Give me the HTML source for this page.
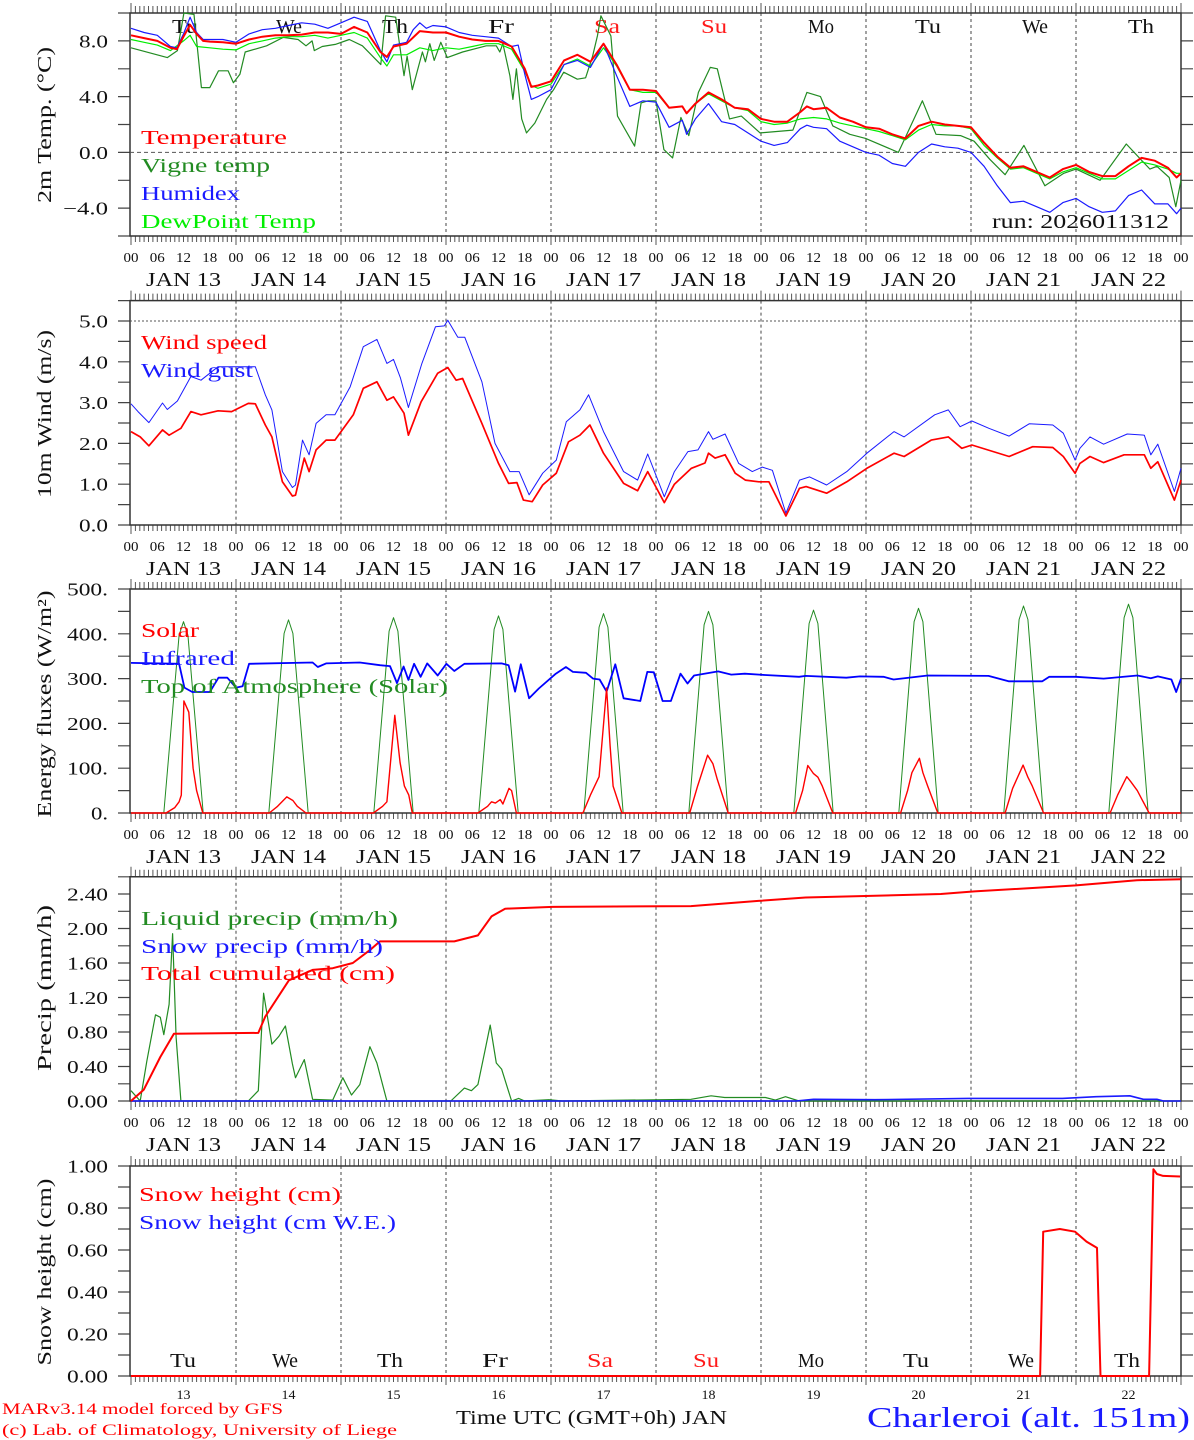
<!DOCTYPE html>
<html><head><meta charset="utf-8"><title>MAR forecast Charleroi</title>
<style>
html,body{margin:0;padding:0;background:#fff;}
svg{display:block;font-family:"Liberation Serif","DejaVu Serif",serif;}
</style></head>
<body>
<svg id="chart" width="1194" height="1440" viewBox="0 0 1194 1440" xmlns="http://www.w3.org/2000/svg"></svg>
<script>
// ---------- DATA ----------
const dayNames = ["Tu","We","Th","Fr","Sa","Su","Mo","Tu","We","Th"];
const dayNums = ["13","14","15","16","17","18","19","20","21","22"];
const hourTicks = ["00","06","12","18"];

const tempH = [0,3,6,9,10.5,12,13.5,15,16.5,18,21,24,27,30,33,36,39,42,45,48,51,54,57,58.5,60,63,66,69,72,75,78,81,84,87,90,91.5,93,96,99,102,105,108,111,114,117,120,123,126,127,129,132,135,138,141,144,147,150,153,154.5,156,159,162,165,168,171,174,177,180,183,186,189,192,195,198,201,204,207,210,213,216,219,222,225,228,231,234,237,239,240];
const tempV = [8.4,8.2,8.0,7.5,7.4,8.3,9.15,8.5,8.0,7.95,7.9,7.8,8.1,8.3,8.4,8.4,8.45,8.6,8.6,8.5,9.0,8.6,7.2,6.85,7.6,7.8,8.7,8.6,8.6,8.3,8.1,8.0,8.0,7.6,6.0,4.7,4.8,5.1,6.6,7.0,6.5,7.8,6.3,4.5,4.5,4.4,3.2,3.3,2.8,3.5,4.3,3.8,3.2,3.1,2.4,2.2,2.2,2.9,3.3,3.1,3.2,2.5,2.2,1.8,1.7,1.3,1.0,1.9,2.2,2.0,1.9,1.8,0.7,-0.3,-1.1,-1.0,-1.4,-1.8,-1.2,-0.9,-1.4,-1.7,-1.7,-1.0,-0.4,-0.6,-1.1,-1.8,-1.5];

const humH = [0,3,6,9,10.5,12,13.5,15,16.5,18,21,24,27,30,33,36,39,42,45,48,51,54,57,58.5,60,63,64.5,66,67.5,69,72,75,78,81,84,87,88.5,90,91.5,93,96,99,102,105,108,111,114,117,120,123,126,127,129,132,135,138,141,144,147,150,153,154.5,156,159,162,165,168,171,174,177,180,183,186,189,192,195,198,201,204,207,210,213,216,219,222,225,228,231,234,237,239,240];
const humV = [8.9,8.6,8.4,7.6,7.5,8.5,9.7,8.6,8.1,8.1,8.1,7.9,8.5,8.8,8.9,9.1,9.3,9.2,8.9,9.3,9.7,9.4,7.3,6.5,7.7,7.9,8.8,9.3,8.9,9.1,9.0,8.6,8.4,8.3,8.2,7.6,7.7,5.6,3.8,4.0,4.5,6.3,6.6,6.1,7.8,5.5,3.3,3.7,3.6,1.8,2.3,1.3,2.4,3.5,2.2,2.0,1.4,0.8,0.5,0.7,1.7,1.95,1.8,1.7,0.8,0.4,0.0,-0.2,-0.8,-1.0,0.0,0.6,0.4,0.3,0.0,-1.0,-2.4,-3.6,-3.5,-3.9,-4.3,-3.6,-3.3,-3.9,-4.3,-4.2,-3.1,-2.7,-3.7,-3.7,-4.4,-4.0];

const dewH = [0,3,6,9,12,13.5,15,18,21,24,27,30,33,36,39,42,45,48,51,54,57,58.5,60,63,66,69,72,75,78,81,84,87,90,91.5,93,96,99,102,105,108,111,114,117,120,123,126,127,129,132,135,138,141,144,147,150,153,156,159,162,165,168,171,174,177,180,183,186,189,192,195,198,201,204,207,210,213,216,219,222,225,228,231,234,237,239,240];
const dewV = [8.1,7.9,7.7,7.3,8.0,8.4,7.6,7.5,7.4,7.35,7.8,8.0,8.2,8.3,8.3,8.4,8.2,8.4,8.6,8.2,6.8,6.2,7.0,7.0,7.5,7.3,7.5,7.4,7.6,7.8,7.8,7.4,5.8,4.8,4.6,4.9,6.3,6.7,6.2,7.5,6.2,4.5,4.3,4.3,3.2,3.3,2.8,3.5,4.2,3.7,3.2,3.0,2.2,2.0,2.1,2.4,2.5,2.4,2.1,1.9,1.7,1.5,1.2,0.9,1.6,2.0,1.9,1.9,1.7,0.5,-0.4,-1.2,-1.1,-1.5,-1.9,-1.4,-1.1,-1.5,-1.9,-1.9,-1.3,-0.7,-0.9,-1.2,-1.5,-1.5];

const vigH = [0,8.3,10.6,12.1,14.4,16.1,18,20,22.2,23.4,24.9,26.1,31,34.8,38.2,40,41.4,41.9,43.7,46.7,49.9,52.9,57.1,58.2,60.5,62.4,63.1,64.3,66.6,67.3,68.3,69.3,70.8,72.3,75.8,81.2,83.5,84.3,85,86.6,87.3,88.1,89.3,90.4,92.3,95,96.6,98.9,102,103.9,105.5,106.6,107.4,109.7,111.2,115.1,116.6,118.2,120,121.8,123.8,125.7,127.5,129.7,132.4,134,136.8,139.5,143.8,151.3,154.5,157.6,160.4,164.3,167.9,175.4,180.9,184,189.6,192.7,196.3,199.8,204.1,208.9,213.2,216,221.5,227.5,232.9,234.5,237.3,238.8,240];
const vigV = [7.5,6.8,7.3,10.0,9.9,4.65,4.65,5.85,5.85,5.0,5.6,7.2,7.65,8.25,8.1,7.65,8.0,7.3,7.6,7.75,8.1,7.65,6.3,9.8,9.7,5.5,6.9,4.5,7.2,6.5,7.8,6.6,7.9,6.8,7.2,7.65,7.65,7.2,7.8,5.5,3.8,6.0,2.4,1.4,2.1,3.8,4.5,5.75,5.25,5.35,6.9,8.35,9.8,8.35,2.6,0.45,3.55,3.7,3.7,0.2,-0.4,2.5,1.2,4.3,6.1,6.0,2.4,2.6,1.4,1.6,4.3,4.0,1.9,1.3,1.0,0.0,3.7,1.3,1.2,0.8,-0.5,-1.6,0.5,-2.4,-1.5,-1.2,-2.0,0.6,-1.2,-1.0,-1.8,-3.9,-2.0];

const windH = [0,2.1,4.1,7.2,8.7,11.4,13.7,16,19.9,23,26.8,28.4,30.7,32.2,34.6,36.9,37.6,39.6,40.7,42.3,44.6,46.6,50.8,53.1,56.2,58.5,60,62.4,63.4,66.3,70.1,72.4,74.3,75.8,80.2,84,86.3,88.2,89.7,91.7,94.1,97.2,100,102.6,104.9,108,112.6,115.8,118.1,121.9,124.2,128.1,131.2,132,133.5,135.8,138.1,140.4,143.5,145.8,149.7,152.8,154.3,159,163.6,168.2,174.4,176.7,182.9,186.8,189.9,192.2,200.7,206.1,210.7,213.1,215.8,216.9,219.2,222.3,227,231.6,233.1,234.7,238.5,240];
const windV = [2.29,2.16,1.94,2.33,2.2,2.37,2.78,2.7,2.8,2.78,2.98,2.97,2.45,2.16,1.06,0.71,0.73,1.64,1.31,1.84,2.08,2.08,2.7,3.35,3.51,3.06,3.14,2.74,2.2,3.02,3.72,3.86,3.55,3.59,2.49,1.51,1.02,1.04,0.61,0.57,0.98,1.27,2.04,2.2,2.45,1.76,1.02,0.84,1.31,0.55,1.0,1.39,1.52,1.76,1.64,1.72,1.27,1.1,1.06,1.06,0.22,0.9,0.94,0.78,1.06,1.39,1.76,1.68,2.08,2.16,1.88,1.96,1.68,1.92,1.9,1.68,1.27,1.51,1.68,1.53,1.72,1.72,1.39,1.55,0.61,1.1];

const gustH = [0,1.6,4.1,7.2,8.3,10.6,13.7,16,19.9,28.4,30.7,32.2,34.6,36.9,37.6,39.2,40.7,42.3,44.6,46.6,50.1,53.1,56.2,58.5,60,61.6,63.4,66.5,69.6,71.6,72.4,74.7,76.3,80.2,83.2,86.6,88.7,91,94.1,97.2,99.5,102.6,104.6,108,112.6,115.8,118.1,121.9,124.2,127.3,129.6,132,133,135.8,138.9,142,144.3,146.6,149.7,152.8,155.1,159,163.6,168.2,174.4,176.7,183.7,186.8,189.5,192.2,196.1,200.7,205.3,210.7,213.1,215.8,216.9,219.2,222.3,227.7,231.6,233.1,234.7,238.5,240];
const gustV = [2.97,2.78,2.51,2.99,2.83,3.04,3.64,3.55,3.88,3.88,3.19,2.82,1.31,0.92,0.98,2.08,1.72,2.49,2.7,2.7,3.39,4.37,4.55,3.96,4.06,3.6,2.88,3.96,4.86,4.88,5.02,4.6,4.6,3.51,2.0,1.31,1.31,0.74,1.27,1.59,2.53,2.82,3.19,2.29,1.31,1.1,1.74,0.69,1.31,1.8,1.84,2.29,2.1,2.23,1.51,1.31,1.42,1.34,0.29,1.1,1.18,0.98,1.31,1.76,2.29,2.16,2.7,2.82,2.41,2.55,2.37,2.18,2.48,2.45,2.25,1.59,1.88,2.16,1.98,2.23,2.2,1.72,1.98,0.82,1.39];

const solarH = [0,8,10,11,11.5,12.1,13.2,14.2,15,16.4,31.6,33.5,35.6,37,38,40,55.4,57.5,58.5,60.3,61.5,62.5,63.5,64.3,79.3,81.5,82.4,83.3,84.4,85,86.4,87,88.1,103.3,105,107,108.7,109.5,110.2,112.2,127.7,129.5,131.8,133,134,136.5,151.9,153.5,154.7,156,157,158,160.4,175.9,177.5,178.5,180.2,181,182.1,184.4,199.8,201.5,203.9,205,206,208.6,223.8,225.5,227.6,228.5,230,232.7,240];
const solarV = [0,0,12,25,40,250,225,100,50,0,0,15,36,28,15,0,0,15,25,218,112,60,40,0,0,15,25,22,30,20,55,50,0,0,40,81,279,150,60,0,0,60,129,110,75,0,0,50,106,88,80,60,0,0,50,90,122,90,60,0,0,55,107,80,60,0,0,40,81,70,50,0,0];

const irH = [0,11,12.2,14,18,20,22,24,25.5,27,41.5,42.7,44.6,52.3,56.9,59.2,60.8,62.3,63.4,64.7,66.2,67.7,70.1,72.1,73.9,76.2,84.7,86.3,87.8,89.1,91,93.2,97.1,99.4,101,104,105.6,107.1,108.7,110.7,112.6,116.4,118,119.5,121.5,123.4,125.6,127.2,128.7,134.2,137.2,140.3,144.9,152.7,154.2,163.5,166.6,172,174.3,182.1,196,200.6,208.3,209.9,216,222.3,230,233.1,234.7,237.8,238.9,240];
const irV = [335,333,280,270,270,302,302,280,283,333,336,326,334,336,330,328,290,327,297,333,304,334,307,333,317,333,334,330,271,332,256,278,311,326,315,313,300,298,271,332,256,250,315,314,250,250,311,289,307,316,309,311,308,304,306,302,305,304,298,307,306,294,294,304,304,300,307,301,305,298,270,300];

const toaH = [0,7.5,11,12,13,16.5,31.5,35,36,37,40.5,55.5,59,60,61,64.5,79.5,83,84,85,88.5,103.5,107,108,109,112.5,127.5,131,132,133,136.5,151.5,155,156,157,160.5,175.5,179,180,181,184.5,199.5,203,204,205,208.5,223.5,227,228,229,232.5,240];
const toaV = [0,0,397,427,397,0,0,401,431,401,0,0,406,436,406,0,0,410,440,410,0,0,415,445,415,0,0,420,450,420,0,0,423,453,423,0,0,427,457,427,0,0,432,462,432,0,0,436,466,436,0,0];

const cumH = [0,2.9,6.7,9.8,29.1,30.7,36.1,41.5,46.1,50.7,54.6,56.9,73.9,79.3,82.4,85.5,96.3,128,143.4,154.2,185.1,192.8,216,229.9,240];
const cumV = [0,0.13,0.51,0.78,0.79,0.98,1.40,1.52,1.54,1.60,1.75,1.85,1.85,1.92,2.14,2.23,2.25,2.26,2.32,2.36,2.40,2.43,2.50,2.56,2.57];

const liqH = [0,2.1,3.6,5.6,6.7,7.5,8.7,9.5,10.3,11.4,26.8,29.1,30.3,32.2,33.8,35.3,36.9,37.6,39.6,41.5,46.1,48.4,50.4,52.3,54.6,56.2,58.5,73.1,76.2,77.8,79.3,80.9,82.1,83.5,84.7,87,88.6,90,95.5,98.6,128,132.6,135.7,138.8,145,147.3,149.6,152.7,240];
const liqV = [0.12,0,0.46,1.0,0.97,0.77,1.12,1.94,0.74,0,0,0.12,1.25,0.66,0.75,0.87,0.43,0.27,0.48,0.02,0.01,0.27,0.07,0.19,0.63,0.44,0,0,0.15,0.12,0.19,0.58,0.88,0.44,0.37,0,0.03,0,0.015,0,0.02,0.06,0.04,0.04,0.04,0.01,0.05,0,0];

const snowPH = [0,152,156,170,191.3,212.9,220.6,228.3,231.4,234.5,236,240];
const snowPV = [0,0,0.02,0.015,0.03,0.03,0.05,0.06,0.02,0.02,0,0];

const snowH = [0,207.8,208.5,212.3,215.8,218.4,220.8,221.6,232.7,233.7,234.5,235.9,239.8];
const snowV = [0,0,0.687,0.70,0.687,0.64,0.61,0,0,0.985,0.962,0.953,0.95];

// ---------- HELPERS ----------
const NS = 'http://www.w3.org/2000/svg';
const svg = document.getElementById('chart');
function mk(tag, parent) { const e = document.createElementNS(NS, tag); (parent || svg).appendChild(e); return e; }
function set(e, o) { for (const k in o) e.setAttribute(k, o[k]); return e; }
const XL = 131, XR = 1181;
function xh(h) { return XL + h * (XR - XL) / 240; }
function yv(p, v) { return p.bot - (v - p.vmin) / (p.vmax - p.vmin) * (p.bot - p.top); }
function txt(str, x, y, size, color, anchor, len) {
  const t = mk('text');
  set(t, { x: x, y: y, 'font-size': size, fill: color, 'text-anchor': anchor || 'start' });
  if (len) { set(t, { textLength: len, lengthAdjust: 'spacingAndGlyphs' }); }
  t.textContent = str;
  return t;
}
function labW(s) { let w = 0; for (const c of s) { w += (c === '.') ? 5 : (c === '\u2212' ? 16 : 12); } return w; }
function seriesPath(p, H, V, color, width) {
  let d = '';
  for (let i = 0; i < H.length; i++) { d += (i ? 'L' : 'M') + xh(H[i]).toFixed(1) + ' ' + yv(p, V[i]).toFixed(1); }
  const e = mk('path');
  set(e, { d: d, fill: 'none', stroke: color, 'stroke-width': width, 'stroke-linejoin': 'round' });
  return e;
}

const P = [
  { id: 'temp', top: 13, bot: 236, vmin: -6, vmax: 10, step: 2, labels: [8, 4, 0, -4], dec: 1, title: '2m Temp. (\u00B0C)', tc: 125, tl: 156 },
  { id: 'wind', top: 300.6, bot: 525, vmin: 0, vmax: 5.5, step: 0.5, labels: [0, 1, 2, 3, 4, 5], dec: 1, title: '10m Wind (m/s)', tc: 414, tl: 168 },
  { id: 'energy', top: 589, bot: 813, vmin: 0, vmax: 500, step: 50, labels: [0, 100, 200, 300, 400, 500], dec: -1, title: 'Energy fluxes (W/m\u00B2)', tc: 704, tl: 227 },
  { id: 'precip', top: 876.75, bot: 1101, vmin: 0, vmax: 2.6, step: 0.2, labels: [0, 0.4, 0.8, 1.2, 1.6, 2.0, 2.4], dec: 2, title: 'Precip (mm/h)', tc: 988, tl: 166 },
  { id: 'snow', top: 1166, bot: 1376, vmin: 0, vmax: 1, step: 0.1, labels: [0, 0.2, 0.4, 0.6, 0.8, 1.0], dec: 2, title: 'Snow height (cm)', tc: 1272, tl: 187 }
];

// ---------- AXES ----------
P.forEach(function (p, pi) {
  const g = mk('g');
  
  
  // day separators
  let dd = '';
  for (let d = 1; d < 10; d++) { const x = xh(d * 24).toFixed(1); dd += 'M' + x + ' ' + p.top + 'V' + p.bot; }
  const sep = mk('path', g);
  set(sep, { d: dd, stroke: '#444', 'stroke-width': 1, 'stroke-dasharray': '3,3', fill: 'none' });
  
  
  // hourly ticks
  let td = '';
  for (let h = 0; h <= 240; h++) {
    const x = xh(h).toFixed(1);
    const lg = (h % 24 === 0);
    td += 'M' + x + ' ' + (p.top - (lg ? 10 : 7)) + 'V' + p.top;
    td += 'M' + x + ' ' + p.bot + 'V' + (p.bot + (lg ? 9 : 6));
  }
  const tk = mk('path', g);
  set(tk, { d: td, stroke: '#555', 'stroke-width': 1, fill: 'none' });
  
  
  // y ticks
  let yd = '';
  const n = Math.round((p.vmax - p.vmin) / p.step);
  for (let i = 0; i <= n; i++) {
    const y = yv(p, p.vmin + i * p.step).toFixed(1);
    yd += 'M118 ' + y + 'H130M' + XR + ' ' + y + 'H1193';
  }
  const yt = mk('path', g);
  set(yt, { d: yd, stroke: '#444', 'stroke-width': 1.2, fill: 'none' });
  
  
  // frame
  const fr = mk('rect', g);
  set(fr, { x: 130, y: p.top, width: XR - 130, height: p.bot - p.top, fill: 'none', stroke: '#333', 'stroke-width': 1.5 });
  
  
  // y labels
  p.labels.forEach(function (v) {
    let s = p.dec < 0 ? (v.toFixed(0) + '.') : v.toFixed(p.dec);
    if (v < 0) s = '\u2212' + s.slice(1);
    const t = txt(s, 108, yv(p, v) + 6.5, 18, '#111', 'end', labW(s));
    
    
  });
  // y title
  const yt2 = txt(p.title, 0, 0, 20, '#111', 'middle', p.tl);
  yt2.setAttribute('transform', 'translate(51,' + p.tc + ') rotate(-90)');
  
  
  // x labels
  if (pi < 4) {
    for (let d = 0; d < 10; d++) {
      for (let k = 0; k < 4; k++) {
        const t = txt(hourTicks[k], xh(d * 24 + k * 6), p.bot + 26, 14, '#111', 'middle', 15);
        
        
      }
      const dl = txt('JAN ' + dayNums[d], xh(d * 24 + 12), p.bot + 50, 20, '#111', 'middle', 75);
      
      
    }
    const t = txt('00', xh(240), p.bot + 26, 14, '#111', 'middle', 15);
    
    
  }
});

// zero / 5.0 reference lines
const z1 = mk('line');
set(z1, { x1: 130, x2: XR, y1: yv(P[0], 0), y2: yv(P[0], 0), stroke: '#555', 'stroke-width': 1, 'stroke-dasharray': '4,3' });


const z2 = mk('line');
set(z2, { x1: 130, x2: XR, y1: yv(P[1], 5), y2: yv(P[1], 5), stroke: '#555', 'stroke-width': 1, 'stroke-dasharray': '2,2' });



// day names
const topDayX = [185, 289, 395, 501, 607, 714, 821, 928, 1035, 1141];
const botDayX = [183, 285, 390, 495, 600, 706, 811, 916, 1021, 1127];
for (let d = 0; d < 10; d++) {
  const col = (d === 4 || d === 5) ? '#ff1a1a' : '#111';
  const t = txt(dayNames[d], topDayX[d], 33, 20, col, 'middle', 26);
  
  
  const b = txt(dayNames[d], botDayX[d], 1367, 20, col, 'middle', 26);
  
  
  const nn = txt(dayNums[d], xh(d * 24 + 12), 1399, 13, '#111', 'middle', 14);
  
  
}

// ---------- SERIES ----------
let s;
s = seriesPath(P[0], vigH, vigV, '#228b22', 1.2);


s = seriesPath(P[0], dewH, dewV, '#00ee00', 1.2);


s = seriesPath(P[0], humH, humV, '#1a1aff', 1.2);


s = seriesPath(P[0], tempH, tempV, '#ff0000', 2);



s = seriesPath(P[1], gustH, gustV, '#1a1aff', 1);


s = seriesPath(P[1], windH, windV, '#ff0000', 1.7);



s = seriesPath(P[2], toaH, toaV, '#228b22', 1);


s = seriesPath(P[2], irH, irV, '#0000ff', 1.8);


s = seriesPath(P[2], solarH, solarV, '#ff0000', 1.4);



s = seriesPath(P[3], liqH, liqV, '#228b22', 1.2);


s = seriesPath(P[3], snowPH, snowPV, '#1a1aff', 1.6);


s = seriesPath(P[3], cumH, cumV, '#ff0000', 2);



s = seriesPath(P[4], snowH, snowV, '#ff0000', 2);



// ---------- LEGENDS & TEXT ----------
const legends = [
  ['Temperature', 141, 144, '#ff0000', 146, 'legend-temperature'],
  ['Vigne temp', 141, 172, '#228b22', 129, 'legend-vigne-temp'],
  ['Humidex', 141, 200, '#1a1aff', 99, 'legend-humidex'],
  ['DewPoint Temp', 141, 228, '#00ee00', 175, 'legend-dewpoint'],
  ['Wind speed', 141, 349, '#ff0000', 126, 'legend-wind-speed'],
  ['Wind gust', 141, 377, '#1a1aff', 112, 'legend-wind-gust'],
  ['Solar', 141, 637, '#ff0000', 58, 'legend-solar'],
  ['Infrared', 141, 665, '#1a1aff', 94, 'legend-infrared'],
  ['Top of Atmosphere (Solar)', 141, 693, '#228b22', 307, 'legend-toa'],
  ['Liquid precip (mm/h)', 141, 925, '#228b22', 257, 'legend-liquid-precip'],
  ['Snow precip (mm/h)', 141, 953, '#1a1aff', 242, 'legend-snow-precip'],
  ['Total cumulated (cm)', 141, 980, '#ff0000', 254, 'legend-total-cumulated'],
  ['Snow height (cm)', 139, 1201, '#ff0000', 202, 'legend-snow-height'],
  ['Snow height (cm W.E.)', 139, 1229, '#1a1aff', 257, 'legend-snow-we']
];
legends.forEach(function (L) {
  const t = txt(L[0], L[1], L[2], 20, L[3], 'start', L[4]);
  
  
});

let t;
t = txt('run: 2026011312', 992, 228, 20, '#111', 'start', 177);


t = txt('MARv3.14 model forced by GFS', 2, 1414, 16, '#ff0000', 'start', 281);


t = txt('(c) Lab. of Climatology, University of Liege', 2, 1435, 16, '#ff0000', 'start', 395);


t = txt('Time UTC (GMT+0h) JAN', 456, 1424, 20, '#111', 'start', 271);


t = txt('Charleroi (alt. 151m)', 867, 1427, 29, '#1a1aff', 'start', 323);


</script>
</body></html>
